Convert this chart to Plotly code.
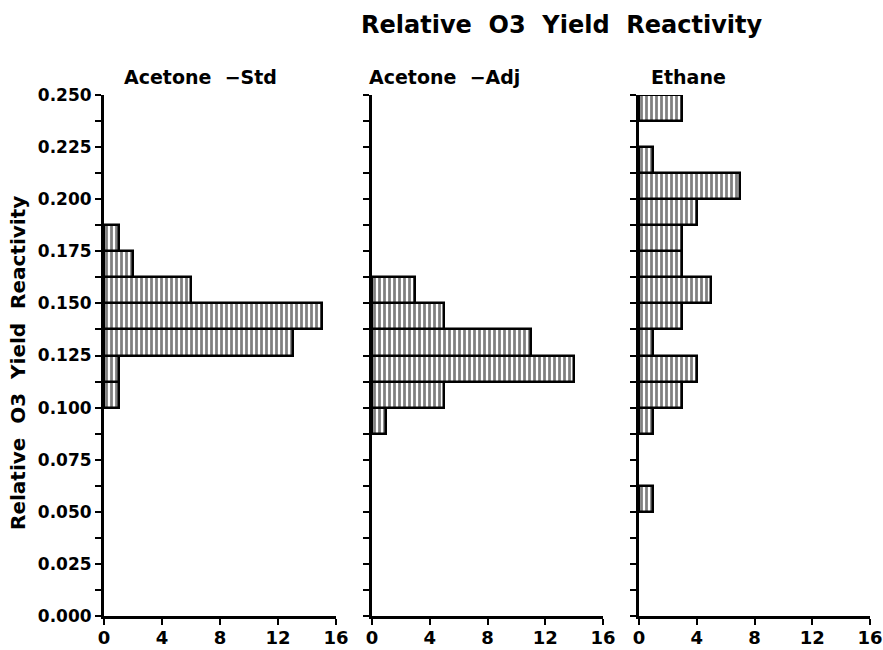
import plotly.graph_objects as go

# Histogram data: lower edge of each bin (bin width 0.0125) and counts
bin_width = 0.0125
std_bins = [0.1000, 0.1125, 0.1250, 0.1375, 0.1500, 0.1625, 0.1750]
std_counts = [1, 1, 13, 15, 6, 2, 1]

adj_bins = [0.0875, 0.1000, 0.1125, 0.1250, 0.1375, 0.1500]
adj_counts = [1, 5, 14, 11, 5, 3]

eth_bins = [0.0500, 0.0875, 0.1000, 0.1125, 0.1250, 0.1375, 0.1500,
            0.1625, 0.1750, 0.1875, 0.2000, 0.2125, 0.2375]
eth_counts = [1, 1, 3, 4, 1, 3, 5, 3, 3, 4, 7, 1, 3]

panel_titles = ["Acetone\u00a0\u00a0\u2212Std", "Acetone\u00a0\u00a0\u2212Adj", "Ethane"]
main_title = "Relative\u00a0\u00a0O3\u00a0\u00a0Yield\u00a0\u00a0Reactivity"
y_title = "Relative\u00a0\u00a0O3\u00a0\u00a0Yield\u00a0\u00a0Reactivity"

y_ticks = [0.0, 0.025, 0.05, 0.075, 0.1, 0.125, 0.15, 0.175, 0.2, 0.225, 0.25]
x_ticks = [0, 4, 8, 12, 16]

W, H = 883, 650
FONT = "DejaVu Sans"

x_doms = [(104, 336), (372, 603), (639, 870)]
y_px = (95, 616)  # top, bottom

fig = go.Figure()
datasets = [(std_bins, std_counts), (adj_bins, adj_counts), (eth_bins, eth_counts)]
for i, (bins, counts) in enumerate(datasets):
    suffix = "" if i == 0 else str(i + 1)
    fig.add_trace(go.Bar(
        x=counts, y=bins, orientation="h",
        width=bin_width, offset=0,
        xaxis="x" + suffix, yaxis="y" + suffix,
        marker=dict(color="white",
                    line=dict(color="black", width=2.5),
                    pattern=dict(shape="|", size=5, solidity=0.55,
                                 fgcolor="black", bgcolor="white")),
        showlegend=False, hoverinfo="skip",
    ))

layout = dict(
    width=W, height=H,
    margin=dict(l=0, r=0, t=0, b=0),
    paper_bgcolor="white", plot_bgcolor="white",
    font=dict(family=FONT, color="black", weight="bold"),
    bargap=0,
)

ydom = [1 - y_px[1] / H, 1 - y_px[0] / H]
for i, (a, b) in enumerate(x_doms):
    suffix = "" if i == 0 else str(i + 1)
    layout["xaxis" + suffix] = dict(
        domain=[a / W, b / W], range=[0, 16], tickvals=x_ticks,
        showline=True, linewidth=3, linecolor="black",
        ticks="outside", ticklen=6, tickwidth=2, tickcolor="black",
        showgrid=False, zeroline=False, automargin=False,
        ticklabeloverflow="allow", ticklabelstandoff=-3,
        tickfont=dict(family=FONT, size=18, color="black", weight="bold"),
        anchor="y" + suffix, fixedrange=True,
    )
    layout["yaxis" + suffix] = dict(
        domain=ydom, range=[0, 0.25], tickvals=y_ticks, tickformat=".3f",
        showticklabels=(i == 0),
        showline=True, linewidth=3, linecolor="black",
        ticks="outside", ticklen=6, tickwidth=2, tickcolor="black",
        minor=dict(dtick=0.0125, tick0=0, ticks="outside", ticklen=6,
                   tickwidth=2, tickcolor="black", showgrid=False),
        showgrid=False, zeroline=False, automargin=False,
        ticklabeloverflow="allow",
        tickfont=dict(family=FONT, size=17, color="black", weight="bold"),
        anchor="x" + suffix, fixedrange=True,
    )

title_x = [200, 444, 688]
ann = []
for t, xc in zip(panel_titles, title_x):
    ann.append(dict(text=t, x=xc / W, y=1 - 77 / H, xref="paper", yref="paper",
                    xanchor="center", yanchor="middle", showarrow=False,
                    font=dict(family=FONT, size=19, color="black", weight="bold")))
ann.append(dict(text=main_title, x=562 / W, y=1 - 25 / H, xref="paper", yref="paper",
                xanchor="center", yanchor="middle", showarrow=False,
                font=dict(family=FONT, size=24, color="black", weight="bold")))
ann.append(dict(text=y_title, x=18 / W, y=1 - 363 / H, xref="paper", yref="paper",
                xanchor="center", yanchor="middle", showarrow=False, textangle=-90,
                font=dict(family=FONT, size=20, color="black", weight="bold")))
layout["annotations"] = ann

fig.update_layout(**layout)
fig.write_html("out.html")
